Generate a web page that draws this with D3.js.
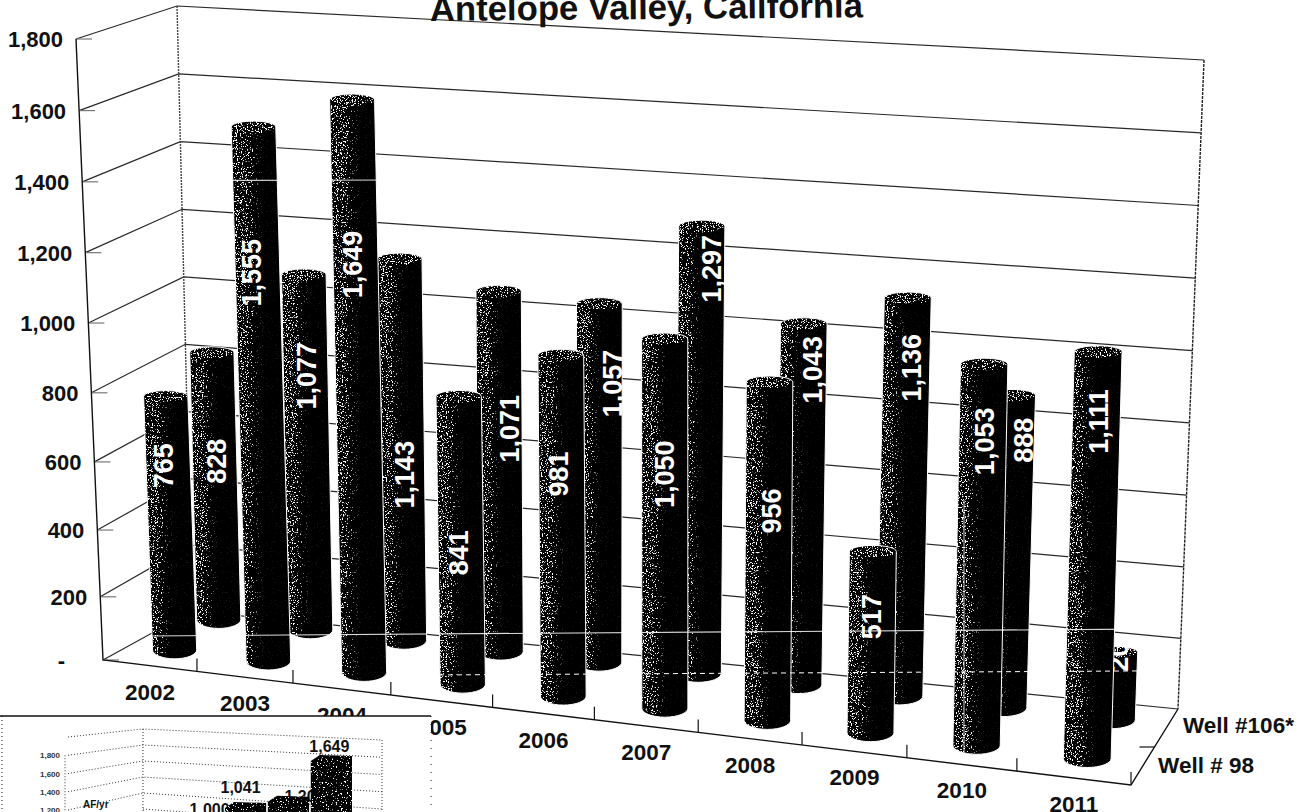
<!DOCTYPE html>
<html>
<head>
<meta charset="utf-8">
<script src="https://cdn.jsdelivr.net/npm/d3@7"></script>
<style>
  html, body { margin: 0; padding: 0; background: #fff; overflow: hidden; }
  text { font-family: "Liberation Sans", Arial, sans-serif; font-weight: bold; }
</style>
</head>
<body>
<script>
var years = ['2002', '2003', '2004', '2005', '2006', '2007', '2008', '2009', '2010', '2011'];
var well98 = [765, 1555, 1649, 841, 981, 1050, 956, 517, 1053, 1111];
var well106 = [828, 1077, 1143, 1071, 1057, 1297, 1043, 1136, 888, 200];
// the last label is half hidden behind the front bar, only "20" can be read
var well98Labels = ['765', '1,555', '1,649', '841', '981', '1,050', '956', '517', '1,053', '1,111'];
var well106Labels = ['828', '1,077', '1,143', '1,071', '1,057', '1,297', '1,043', '1,136', '888', '20'];
var yTicks = [0, 200, 400, 600, 800, 1000, 1200, 1400, 1600, 1800];
var yTickLabels = ['-', '200', '400', '600', '800', '1,000', '1,200', '1,400', '1,600', '1,800'];
var seriesNames = ['Well # 98', 'Well #106*'];
var title = 'Antelope Valley, California';

// where each rotated label sits on its cylinder, in chart units, and its sideways nudge
var labelAt98 = [558, 1138, 1183, 390, 643, 670, 595, 330, 840, 920];
var labelAt106 = [490, 765, 500, 658, 812, 1160, 897, 925, 747, 170];
var nudge98 = [-2, -3, 0, 1, 0, 3, 6, 3, 5, 5];
var nudge106 = [2.5, 2, 3.5, 11.5, 14, 11.5, 10.5, 6.5, 14, 6];

// small pasted chart in the corner
var insetValues = [1000, 1041, 1200, 1649];
var insetLabels = ['1,000', '1,041', '1,200', '1,649'];
var insetTicks = [1200, 1400, 1600, 1800];
var insetTickLabels = ['1,200', '1,400', '1,600', '1,800'];
var insetGrid = [1000, 1200, 1400, 1600, 1800, 2000];
var insetDrop = [19, 0, 6, 0];
var insetLabelDx = [7, -5, 16, -2];
var insetLabelDy = [0, 0, 15, 6];

var width = 1302, height = 812;
var svg = d3.select('body').append('svg').attr('width', width).attr('height', height);
var defs = svg.append('defs');

// corners of the 3d box, F/B front/back, L/R left/right
var FLB = [103, 660], FRB = [1131, 785], BLB = [192, 611], BRB = [1178, 709];
var FLT = [76, 39], FRT = [1149, 105], BLT = [177, 6], BRT = [1204, 60];

// front edge tick spacing widens to the right
var xScale = d3.scaleLinear().domain(d3.range(11))
  .range([0, 0.0914, 0.1848, 0.28, 0.379, 0.478, 0.579, 0.68, 0.782, 0.889, 1]);
var depth = d3.scaleOrdinal().domain(seriesNames).range([0.3, 0.83]);
var yNear = d3.scalePow().exponent(1.04).domain([0, 1800]).range([0, 1]);
var yFar = d3.scalePow().exponent(1.01).domain([0, 1800]).range([0, 1]);
var radius = d3.scaleLinear().domain([0, 1]).range([22, 24]);

var lerp = function(a, b, t) {
  return [a[0] + (b[0] - a[0]) * t, a[1] + (b[1] - a[1]) * t];
};
var project = function(u, d, v) {
  var bottom = lerp(lerp(FLB, FRB, u), lerp(BLB, BRB, u), d);
  var top = lerp(lerp(FLT, FRT, u), lerp(BLT, BRT, u), d);
  return lerp(bottom, top, yNear(v) + (yFar(v) - yNear(v)) * d);
};

// speckle: noise thresholded against the alpha of whatever it is applied to
var gradient = defs.append('linearGradient').attr('id', 'sheen');
[[0, 0.18], [0.07, 0.34], [0.26, 0.3], [0.4, 0.08], [0.55, 0.01], [1, 0.01]].forEach(function(s) {
  gradient.append('stop').attr('offset', s[0]).attr('stop-color', '#fff').attr('stop-opacity', s[1]);
});
var speck = defs.append('filter').attr('id', 'speck')
  .attr('x', 0).attr('y', 0).attr('width', 1).attr('height', 1)
  .attr('color-interpolation-filters', 'sRGB');
speck.append('feTurbulence').attr('type', 'fractalNoise').attr('baseFrequency', 0.8)
  .attr('numOctaves', 2).attr('seed', 4).attr('result', 'noise');
speck.append('feColorMatrix').attr('in', 'noise').attr('type', 'matrix')
  .attr('values', '0 0 0 0 1  0 0 0 0 1  0 0 0 0 1  2.4 0 0 0 -0.7').attr('result', 'grain');
speck.append('feComposite').attr('in', 'SourceGraphic').attr('in2', 'grain')
  .attr('operator', 'arithmetic').attr('k1', 0).attr('k2', 7).attr('k3', 7).attr('k4', -7);

// title, cut by the top of the page
svg.append('text').attr('transform', 'translate(430,21) rotate(-0.5)')
  .attr('font-size', 34.7).attr('fill', '#111').text(title);

// walls and floor
var wallLine = d3.line();
var walls = svg.append('g').attr('fill', 'none').attr('stroke', '#111');
yTicks.forEach(function(v) {
  walls.append('path').attr('stroke-width', 1.2).attr('stroke-opacity', 0.9)
    .attr('d', wallLine([project(0, 0, v), project(0, 1, v), project(1, 1, v)]));
  var p = project(0, 0, v);
  walls.append('path').attr('stroke', '#777').attr('stroke-width', 1.2)
    .attr('d', wallLine([p, [p[0] + 16, p[1]]]));
});
walls.append('path').attr('stroke-width', 1.4).attr('d', wallLine([project(0, 0, 1800), project(0, 0, 0), project(1, 0, 0), project(1, 1, 0)]));
walls.append('path').attr('stroke', '#444').attr('stroke-width', 1.4).attr('stroke-dasharray', '2 1')
  .attr('d', wallLine([project(0, 1, 1800), project(0, 1, 0)]));
walls.append('path').attr('stroke', '#222').attr('stroke-width', 1.4).attr('stroke-dasharray', '3 1')
  .attr('d', wallLine([project(1, 1, 1800), project(1, 1, 0)]));
d3.range(1, years.length + 1).forEach(function(i) {
  var p = project(xScale(i), 0, 0);
  walls.append('path').attr('stroke-width', 1.2).attr('d', wallLine([p, [p[0], p[1] - 13]]));
});
var mid = project(1, 0.5, 0);
walls.append('path').attr('stroke-width', 1.2).attr('d', wallLine([mid, [mid[0] - 15, mid[1]]]));

// value axis labels
svg.append('g').selectAll('text').data(yTicks).join('text')
  .attr('x', function(v) { return project(0, 0, v)[0] - (v > 0 ? 13 : 38); })
  .attr('y', function(v) { return project(0, 0, v)[1] + 8; })
  .attr('text-anchor', 'end').attr('font-size', 22).attr('fill', '#111')
  .text(function(v, i) { return yTickLabels[i]; });

// year labels
svg.append('g').selectAll('text').data(years).join('text')
  .attr('x', function(y, i) { return project(xScale(i + 0.5), 0, 0)[0]; })
  .attr('y', function(y, i) { return project(xScale(i + 0.5), 0, 0)[1] + 34; })
  .attr('text-anchor', 'middle').attr('font-size', 22.5).attr('fill', '#111')
  .text(function(y) { return y; });

// series labels on the depth axis
seriesNames.forEach(function(name) {
  var p = project(1, depth(name), 0);
  svg.append('text').attr('x', p[0] + 13).attr('y', p[1] + 11)
    .attr('font-size', 22.5).attr('fill', '#111').text(name);
});

// the scan is not quite square, so each row of bars gets its own small correction
var capDrop = d3.scaleOrdinal().domain(seriesNames).range([2, 6]);
var rowShift = d3.scaleOrdinal().domain(seriesNames).range([-1.5, -3.5]);
var floorTilt = {};
floorTilt[seriesNames[0]] = d3.scaleLinear().domain([0, 1]).range([-1, 3]);
floorTilt[seriesNames[1]] = d3.scaleLinear().domain([0, 1]).range([-5, 4]);

var cylinderPath = function(i, name, v) {
  var u = xScale(i + 0.5), d = depth(name), r = radius(u), s = rowShift(name);
  var t = project(u, d, v), b = project(u, d, 0);
  var ty = t[1] + capDrop(name), by = b[1] + floorTilt[name](u);
  return 'M' + (t[0] + s - r) + ',' + ty + 'A' + r + ',6 0 0 1 ' + (t[0] + s + r) + ',' + ty +
    'L' + (b[0] + s + r) + ',' + by + 'A' + r + ',9 0 0 1 ' + (b[0] + s - r) + ',' + by + 'Z';
};
var creaseClip = defs.append('clipPath').attr('id', 'bars');

var drawSeries = function(name, values, labels, labelAt, nudge) {
  var g = svg.append('g');
  values.forEach(function(v, i) {
    var path = cylinderPath(i, name, v);
    var u = xScale(i + 0.5), d = depth(name), r = radius(u);
    var t = project(u, d, v);
    creaseClip.append('path').attr('d', path);
    g.append('path').attr('d', path).attr('fill', '#000').attr('stroke', '#fff').attr('stroke-width', 1);
    g.append('path').attr('d', path).attr('fill', 'url(#sheen)').attr('filter', 'url(#speck)');
    g.append('ellipse').attr('cx', t[0] + rowShift(name)).attr('cy', t[1] + capDrop(name)).attr('rx', r - 1).attr('ry', 6)
      .attr('fill', '#fff').attr('fill-opacity', 0.34).attr('filter', 'url(#speck)');
    var p = project(u, d, labelAt[i]);
    g.append('text').attr('transform', 'translate(' + (p[0] + 5 + nudge[i]) + ',' + p[1] + ') rotate(-90)')
      .attr('text-anchor', 'middle').attr('font-size', 27).attr('fill', '#fff')
      .text(labels[i]);
  });
};
drawSeries(seriesNames[1], well106, well106Labels, labelAt106, nudge106);
drawSeries(seriesNames[0], well98, well98Labels, labelAt98, nudge98);

// scan creases, only visible on the black of the bars
var creases = svg.append('g').attr('clip-path', 'url(#bars)').attr('stroke', '#fff').attr('fill', 'none');
creases.append('line').attr('x1', 0).attr('y1', 637).attr('x2', 1302).attr('y2', 628).attr('stroke-width', 1.2).attr('stroke-opacity', 0.85);
creases.append('line').attr('x1', 430).attr('y1', 675).attr('x2', 1302).attr('y2', 670).attr('stroke-width', 1).attr('stroke-dasharray', '5 4');
creases.append('line').attr('x1', 0).attr('y1', 181).attr('x2', 400).attr('y2', 180).attr('stroke-width', 1.2).attr('stroke-opacity', 0.8);
creases.append('line').attr('x1', 964).attr('y1', 500).attr('x2', 964).attr('y2', 760).attr('stroke-width', 1).attr('stroke-opacity', 0.8);

// inset
var inset = svg.append('g');
inset.append('rect').attr('x', -2).attr('y', 716).attr('width', 433).attr('height', 100).attr('fill', '#fff');
inset.append('line').attr('x1', 0).attr('y1', 716).attr('x2', 431).attr('y2', 716)
  .attr('stroke', '#111').attr('stroke-width', 1.6);
inset.append('line').attr('x1', 2).attr('y1', 716).attr('x2', 2).attr('y2', 812)
  .attr('stroke', '#111').attr('stroke-dasharray', '1 3');
inset.append('line').attr('x1', 431).attr('y1', 716).attr('x2', 431).attr('y2', 812)
  .attr('stroke', '#111').attr('stroke-dasharray', '1 7');

var insetLeft = d3.scaleLinear().domain([1200, 2000]).range([810, 737]);
var insetMid = d3.scaleLinear().domain([1000, 2000]).range([809, 729]);
var insetRight = d3.scaleLinear().domain([1200, 2000]).range([809, 740]);
var insetBars = d3.scaleLinear().domain([1041, 1649]).range([802, 755]);
var insetX = d3.scaleBand().domain(insetLabels).range([182, 352]).paddingInner(0.04);

var insetWalls = inset.append('g').attr('fill', 'none').attr('stroke', '#333')
  .attr('stroke-width', 1).attr('stroke-dasharray', '1 2');
insetGrid.forEach(function(v) {
  var pts = v < 1200 ? [[143, insetMid(v)], [382, insetRight(v)]]
    : [[68, insetLeft(v)], [143, insetMid(v)], [382, insetRight(v)]];
  insetWalls.append('path').attr('d', wallLine(pts));
});
insetWalls.append('path').attr('d', wallLine([[143, insetMid(2000)], [143, 812]]));
insetWalls.append('path').attr('d', wallLine([[382, insetRight(2000)], [382, 812]]));
insetWalls.append('path').attr('d', wallLine([[65, insetLeft(1800)], [65, 812]]));

inset.append('g').selectAll('text').data(insetTicks).join('text')
  .attr('x', 60).attr('y', function(v) { return insetLeft(v) + 3; })
  .attr('text-anchor', 'end').attr('font-size', 8).attr('fill', '#333')
  .text(function(v, i) { return insetTickLabels[i]; });
inset.append('text').attr('x', 83).attr('y', 808).attr('font-size', 10).attr('fill', '#111').text('AF/yr');

// labels first, later bars cover parts of them
insetValues.forEach(function(v, i) {
  var x0 = insetX(insetLabels[i]), x1 = x0 + insetX.bandwidth(), y = insetBars(v) + insetDrop[i];
  inset.append('text').attr('x', (x0 + x1) / 2 + insetLabelDx[i]).attr('y', y - 9 + insetLabelDy[i])
    .attr('text-anchor', 'middle').attr('font-size', 16).attr('fill', '#111').text(insetLabels[i]);
});
insetValues.forEach(function(v, i) {
  var x0 = insetX(insetLabels[i]), x1 = x0 + insetX.bandwidth(), y = insetBars(v) + insetDrop[i];
  var bar = 'M' + x0 + ',' + (y + 6) + 'L' + (x0 + 9) + ',' + y + 'L' + x1 + ',' + (y + 1) + 'V812H' + x0 + 'Z';
  inset.append('path').attr('d', bar).attr('fill', '#000');
  inset.append('path').attr('d', bar).attr('fill', '#fff').attr('fill-opacity', 0.16).attr('filter', 'url(#speck)');
});
</script>
</body>
</html>
